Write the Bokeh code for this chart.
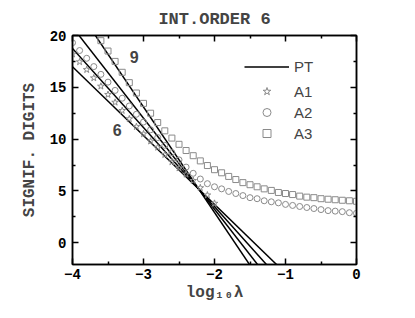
from bokeh.plotting import figure
from bokeh.models import Range1d, LinearAxis, Legend, LegendItem, Label, FixedTicker
from bokeh.embed import file_html
from bokeh.resources import INLINE

# ---------------- data ----------------
pt_x = [-4.0, 0.0]
pt6 = [16.98, -9.58]
pt7 = [18.74, -11.78]
pt8 = [20.81, -14.35]
pt9 = [23.28, -17.44]

a1_x = [-4.0, -3.9, -3.8, -3.7, -3.6, -3.5, -3.4, -3.3, -3.2, -3.1, -3.0,
        -2.9, -2.8, -2.7, -2.6, -2.5, -2.4, -2.3, -2.2, -2.1, -2.0]
a1_y = [18.2, 17.45, 16.7, 15.9, 15.1, 14.3, 13.55, 12.75, 11.95, 11.2, 10.5,
        9.8, 9.2, 8.5, 7.8, 7.2, 6.6, 6.0, 5.3, 4.6, 3.8]

a2_x = [-4.0, -3.9, -3.8, -3.7, -3.6, -3.5, -3.4, -3.3, -3.2, -3.1, -3.0,
        -2.9, -2.8, -2.7, -2.6, -2.5, -2.4, -2.3, -2.2, -2.1, -2.0,
        -1.9, -1.8, -1.7, -1.6, -1.5, -1.4, -1.3, -1.2, -1.1, -1.0,
        -0.9, -0.8, -0.7, -0.6, -0.5, -0.4, -0.3, -0.2, -0.1, 0.0]
a2_y = [19.3, 18.55, 17.8, 17.0, 16.25, 15.5, 14.7, 13.95, 13.2, 12.4, 11.65,
        10.9, 10.15, 9.4, 8.7, 8.0, 7.3, 6.7, 6.15, 5.7, 5.4,
        5.2, 4.95, 4.75, 4.55, 4.35, 4.25, 4.05, 3.95, 3.85, 3.7,
        3.6, 3.5, 3.4, 3.3, 3.2, 3.1, 3.05, 3.0, 2.9, 2.85]

a3_x = [-3.6, -3.5, -3.4, -3.3, -3.2, -3.1, -3.0,
        -2.9, -2.8, -2.7, -2.6, -2.5, -2.4, -2.3, -2.2, -2.1, -2.0,
        -1.9, -1.8, -1.7, -1.6, -1.5, -1.4, -1.3, -1.2, -1.1, -1.0,
        -0.9, -0.8, -0.7, -0.6, -0.5, -0.4, -0.3, -0.2, -0.1, 0.0]
a3_y = [19.5, 18.5, 17.5, 16.45, 15.45, 14.45, 13.45,
        12.5, 11.6, 10.8, 10.1, 9.5, 8.9, 8.4, 7.9, 7.45, 7.05,
        6.75, 6.4, 6.1, 5.8, 5.6, 5.4, 5.2, 5.05, 4.85, 4.75,
        4.65, 4.5, 4.4, 4.35, 4.25, 4.2, 4.15, 4.1, 4.05, 4.0]

x_ticks = [-4, -3, -2, -1, 0]
y_ticks = [0, 5, 10, 15, 20]
x_minor = [-3.5, -2.5, -1.5, -0.5]
y_minor = [-2.5, 2.5, 7.5, 12.5, 17.5]

title_text = "INT.ORDER 6"
x_label = "log\u2081\u2080\u03bb"
y_label = "SIGNIF. DIGITS"

MONO = "Liberation Mono"
SANS = "Liberation Sans"
GRAY = "#8a8a8a"

p = figure(width=406, height=309, output_backend="svg", toolbar_location=None,
           x_range=Range1d(-4, 0), y_range=Range1d(-2.1, 20),
           frame_width=284, frame_height=229,
           min_border_left=72, min_border_top=35, min_border_right=50, min_border_bottom=45,
           x_axis_location=None, y_axis_location=None)

p.title.text = title_text
p.title.align = "center"
p.title.text_font = MONO
p.title.text_font_style = "bold"
p.title.text_font_size = "17px"
p.title.offset = 0
p.title.standoff = 13

p.grid.visible = False
p.outline_line_color = "black"
p.outline_line_width = 1.5
p.background_fill_color = "white"
p.border_fill_color = "white"

def make_axis(ticks, minor, labels=True):
    ax = LinearAxis(ticker=FixedTicker(ticks=ticks, minor_ticks=minor))
    ax.major_tick_in = 6
    ax.major_tick_out = 0
    ax.minor_tick_in = 3
    ax.minor_tick_out = 0
    ax.axis_line_width = 1.5
    ax.major_tick_line_width = 1.5
    ax.minor_tick_line_width = 1.5
    ax.major_label_text_font = MONO
    ax.major_label_text_font_style = "bold"
    ax.major_label_text_font_size = "14px"
    ax.major_label_text_color = "black"
    ax.axis_label_text_font = MONO
    ax.axis_label_text_font_style = "bold"
    ax.axis_label_text_font_size = "16px"
    if not labels:
        ax.major_label_text_alpha = 0
    return ax

xb = make_axis(x_ticks, x_minor)
xb.axis_label = x_label
xb.major_label_standoff = 4
xb.axis_label_standoff = 2
xb.major_label_overrides = {-4: "\u22124", -3: "\u22123", -2: "\u22122", -1: "\u22121", 0: "0"}
p.add_layout(xb, "below")
yl = make_axis(y_ticks, y_minor)
yl.axis_label = y_label
yl.major_label_standoff = 6
yl.axis_label_standoff = 8
p.add_layout(yl, "left")
xt = make_axis(x_ticks, x_minor, labels=False)
xt.major_label_text_font_size = "0px"
p.add_layout(xt, "above")
yr = make_axis(y_ticks, y_minor, labels=False)
yr.major_label_text_font_size = "0px"
p.add_layout(yr, "right")

lines = []
for ys in (pt6, pt7, pt8, pt9):
    lines.append(p.line(pt_x, ys, line_color="black", line_width=1.5))

r1 = p.scatter(a1_x, a1_y, marker="star", size=7, fill_color=None, line_color=GRAY, line_width=1)
r2 = p.scatter(a2_x, a2_y, marker="circle", size=6, fill_color=None, line_color=GRAY, line_width=1)
r3 = p.scatter(a3_x, a3_y, marker="square", size=6, fill_color=None, line_color=GRAY, line_width=1)

p.add_layout(Label(x=-3.37, y=10.9, text="6", text_font=SANS, text_font_style="bold",
                   text_font_size="16px", text_align="center", text_baseline="middle"))
p.add_layout(Label(x=-3.13, y=17.9, text="9", text_font=SANS, text_font_style="bold",
                   text_font_size="16px", text_align="center", text_baseline="middle"))

def style_legend(lg):
    lg.border_line_color = None
    lg.background_fill_alpha = 0
    lg.label_text_font = SANS
    lg.label_text_font_size = "15px"
    lg.glyph_width = 45
    lg.padding = 0
    lg.margin = 0
    lg.label_standoff = 5
    lg.spacing = 1

leg1 = Legend(items=[LegendItem(label="PT", renderers=[lines[0]])], location=(172, 187))
style_legend(leg1)
leg1.glyph_height = 21
leg1.label_height = 21
p.add_layout(leg1, "center")

leg2 = Legend(items=[LegendItem(label="A1", renderers=[r1]),
                     LegendItem(label="A2", renderers=[r2]),
                     LegendItem(label="A3", renderers=[r3])],
              location=(172, 121))
style_legend(leg2)
leg2.glyph_height = 20
leg2.label_height = 20
p.add_layout(leg2, "center")

open("out.html", "w").write(file_html(p, INLINE))
